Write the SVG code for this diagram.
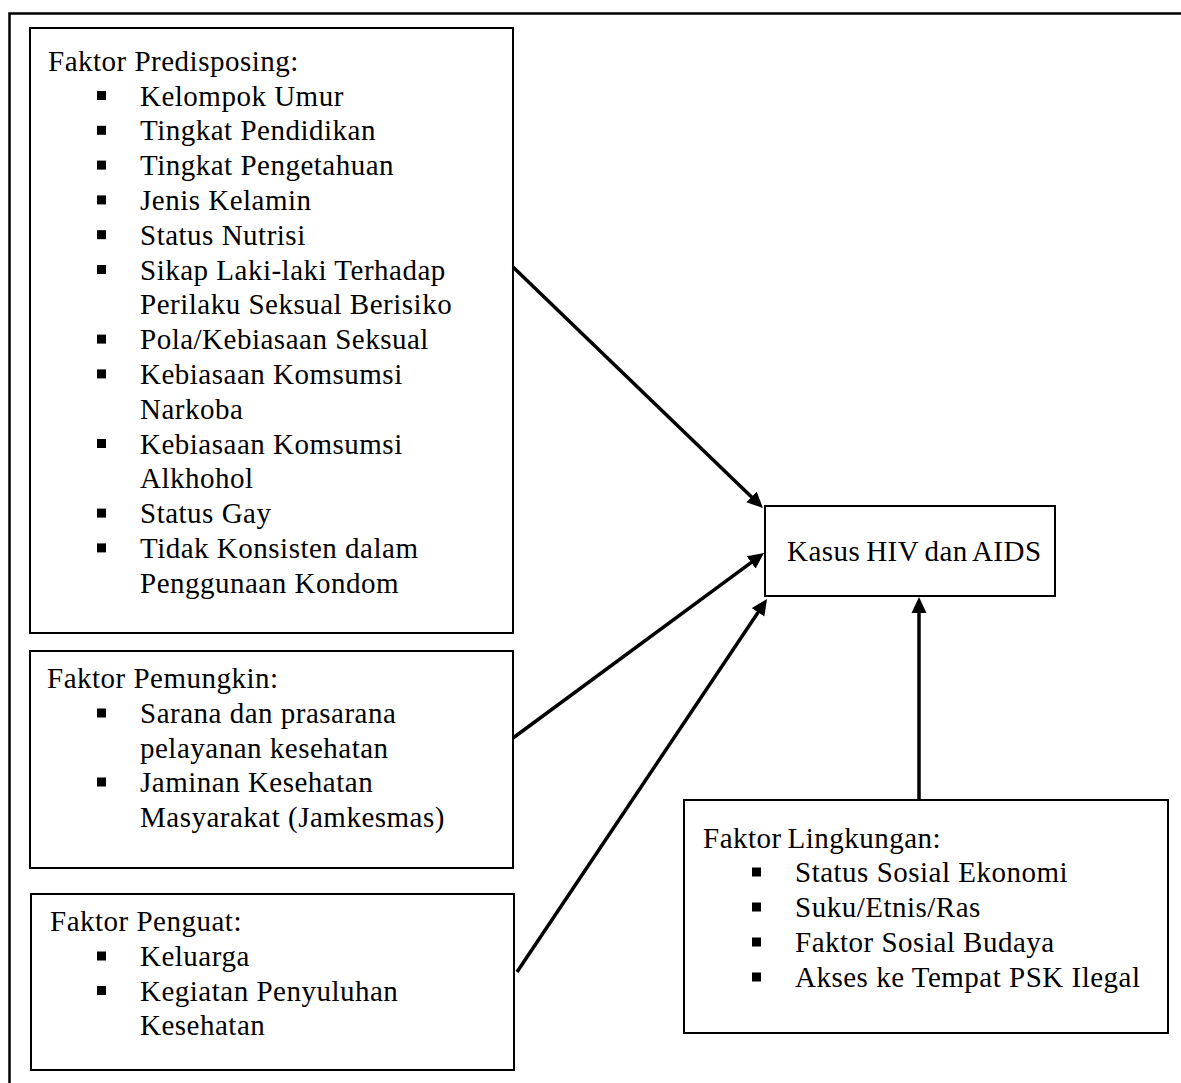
<svg xmlns="http://www.w3.org/2000/svg" width="1181" height="1083" viewBox="0 0 1181 1083">
<style>
  .box { fill: #fff; stroke: #000; stroke-width: 2; }
  .t { font-family: "Liberation Serif", "Times New Roman", serif; font-size: 29px; letter-spacing: 0.5px; fill: #000; }
  .b { fill: #000; }
  .conn { stroke: #000; stroke-width: 3.5; fill: none; marker-end: url(#ah); }
</style>
<defs>
  <marker id="ah" markerUnits="userSpaceOnUse" markerWidth="16" markerHeight="16" refX="7" refY="8" orient="auto">
    <path d="M0,0.5 L16,8 L0,15.5 z" fill="#000"/>
  </marker>
</defs>
<rect x="0" y="0" width="1181" height="1083" fill="#fff"/>
<rect id="frame" x="9.5" y="13.5" width="1200" height="1100" fill="none" stroke="#000" stroke-width="2.5"/>

<g id="predisposing">
  <rect class="box" x="30" y="28" width="483" height="605"/>
  <text class="t" x="48" y="70.7">Faktor Predisposing:</text>
  <rect class="b" x="97" y="91" width="9" height="9"/><text class="t" x="140" y="105.5">Kelompok Umur</text>
  <rect class="b" x="97" y="125.8" width="9" height="9"/><text class="t" x="140" y="140.3">Tingkat Pendidikan</text>
  <rect class="b" x="97" y="160.6" width="9" height="9"/><text class="t" x="140" y="175.1">Tingkat Pengetahuan</text>
  <rect class="b" x="97" y="195.4" width="9" height="9"/><text class="t" x="140" y="209.9">Jenis Kelamin</text>
  <rect class="b" x="97" y="230.2" width="9" height="9"/><text class="t" x="140" y="244.7">Status Nutrisi</text>
  <rect class="b" x="97" y="265" width="9" height="9"/><text class="t" x="140" y="279.5">Sikap Laki-laki Terhadap</text>
  <text class="t" x="140" y="314.3">Perilaku Seksual Berisiko</text>
  <rect class="b" x="97" y="334.6" width="9" height="9"/><text class="t" x="140" y="349.1">Pola/Kebiasaan Seksual</text>
  <rect class="b" x="97" y="369.4" width="9" height="9"/><text class="t" x="140" y="383.9">Kebiasaan Komsumsi</text>
  <text class="t" x="140" y="418.7">Narkoba</text>
  <rect class="b" x="97" y="439" width="9" height="9"/><text class="t" x="140" y="453.5">Kebiasaan Komsumsi</text>
  <text class="t" x="140" y="488.3">Alkhohol</text>
  <rect class="b" x="97" y="508.6" width="9" height="9"/><text class="t" x="140" y="523.1">Status Gay</text>
  <rect class="b" x="97" y="543.4" width="9" height="9"/><text class="t" x="140" y="557.9">Tidak Konsisten dalam</text>
  <text class="t" x="140" y="592.7">Penggunaan Kondom</text>
</g>

<g id="pemungkin">
  <rect class="box" x="30" y="651" width="483" height="217"/>
  <text class="t" x="47" y="688">Faktor Pemungkin:</text>
  <rect class="b" x="97" y="708.5" width="9" height="9"/><text class="t" x="140" y="723">Sarana dan prasarana</text>
  <text class="t" x="140" y="757.5">pelayanan kesehatan</text>
  <rect class="b" x="97" y="777.5" width="9" height="9"/><text class="t" x="140" y="792">Jaminan Kesehatan</text>
  <text class="t" x="140" y="826.5">Masyarakat (Jamkesmas)</text>
</g>

<g id="penguat">
  <rect class="box" x="31" y="894" width="483" height="176"/>
  <text class="t" x="50" y="931">Faktor Penguat:</text>
  <rect class="b" x="97" y="951.5" width="9" height="9"/><text class="t" x="140" y="966">Keluarga</text>
  <rect class="b" x="97" y="986" width="9" height="9"/><text class="t" x="140" y="1000.5">Kegiatan Penyuluhan</text>
  <text class="t" x="140" y="1035">Kesehatan</text>
</g>

<g id="kasus">
  <rect class="box" x="765" y="506" width="290" height="90"/>
  <text class="t" x="787" y="561" word-spacing="-2">Kasus HIV dan AIDS</text>
</g>

<g id="lingkungan">
  <rect class="box" x="684" y="800" width="484" height="233"/>
  <text class="t" x="703" y="848" word-spacing="-2">Faktor Lingkungan:</text>
  <rect class="b" x="752" y="867.5" width="9" height="9"/><text class="t" x="795" y="882">Status Sosial Ekonomi</text>
  <rect class="b" x="752" y="902.5" width="9" height="9"/><text class="t" x="795" y="917">Suku/Etnis/Ras</text>
  <rect class="b" x="752" y="937.5" width="9" height="9"/><text class="t" x="795" y="952">Faktor Sosial Budaya</text>
  <rect class="b" x="752" y="972.5" width="9" height="9"/><text class="t" x="795" y="987">Akses ke Tempat PSK Ilegal</text>
</g>

<g id="connectors">
  <line class="conn" x1="513" y1="267" x2="756.5" y2="501.8"/>
  <line class="conn" x1="513" y1="738" x2="756.8" y2="558.3"/>
  <line class="conn" x1="517" y1="972" x2="762" y2="606.5"/>
  <line class="conn" x1="919" y1="799" x2="919" y2="606"/>
</g>
</svg>
